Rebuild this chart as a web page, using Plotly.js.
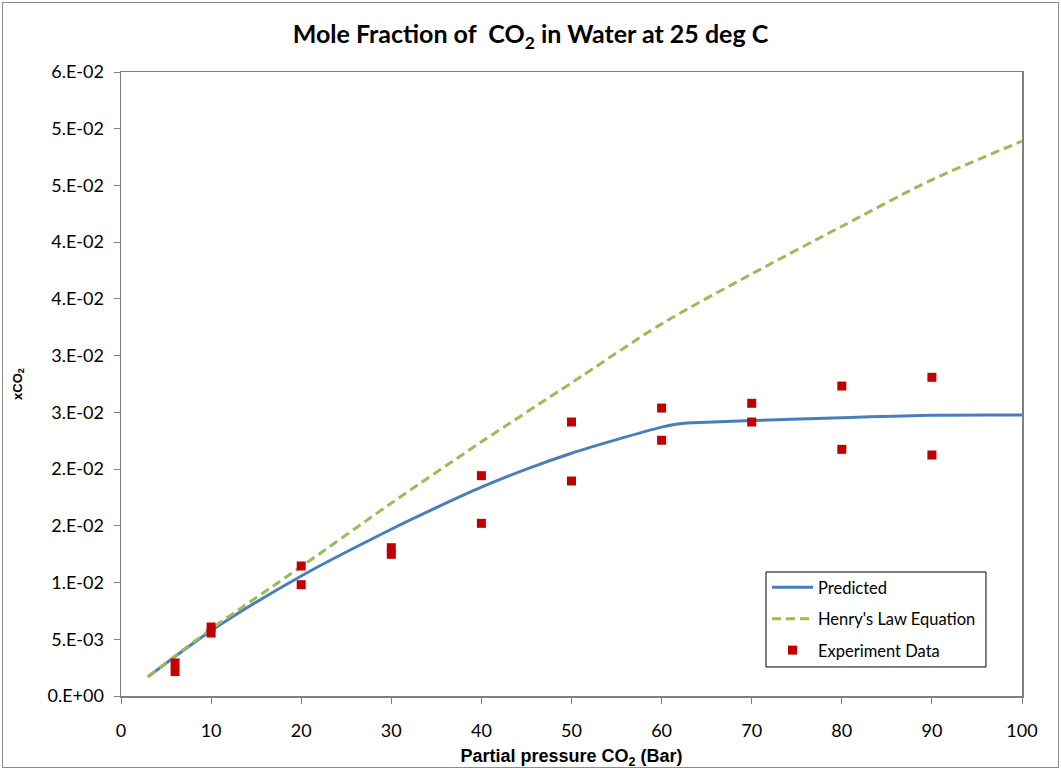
<!DOCTYPE html>
<html>
<head>
<meta charset="utf-8">
<script src="https://cdn.plot.ly/plotly-3.0.1.min.js"></script>
<style>
  html, body { margin: 0; padding: 0; background: #fff; }
  #wrap { position: relative; width: 1061px; height: 769px; }
  #chart { width: 1061px; height: 769px; }
  #frame { position: absolute; left: 2px; top: 2px; width: 1055px; height: 764px; border: 1px solid #8c8c8c; pointer-events: none; }
</style>
</head>
<body>
<div id="wrap"><div id="chart"></div><div id="frame"></div></div>
<script>
// Predicted curve
const predX = [3, 10, 20, 30, 35, 40, 45, 50, 55, 60, 62, 65, 70, 80, 90, 100];
const predY = [0.0017, 0.00576, 0.01058, 0.0147, 0.0166, 0.0184, 0.0200, 0.0214, 0.0226, 0.0237, 0.0240, 0.02413, 0.02428, 0.02453, 0.02474, 0.02476];

// Henry's Law Equation curve
const henryX = [3, 10, 20, 30, 40, 50, 60, 70, 80, 90, 100];
const henryY = [0.0017, 0.0059, 0.0114, 0.0170, 0.0224, 0.0276, 0.0328, 0.0372, 0.0414, 0.0455, 0.0489];

// Experiment data
const expX = [6, 6, 10, 10, 20, 20, 30, 30, 40, 40, 50, 50, 60, 60, 70, 70, 80, 80, 90, 90];
const expY = [0.00291, 0.00215, 0.00608, 0.00555, 0.01146, 0.00981, 0.01307, 0.01249, 0.01942, 0.01522,
              0.02415, 0.01895, 0.02538, 0.02254, 0.0258, 0.02415, 0.02732, 0.02174, 0.02809, 0.02124];

// Axis ticks
const yTickVals = [0, 0.005, 0.01, 0.015, 0.02, 0.025, 0.03, 0.035, 0.04, 0.045, 0.05, 0.055];
const yTickText = ['0.E+00', '5.E-03', '1.E-02', '2.E-02', '2.E-02', '3.E-02', '3.E-02', '4.E-02', '4.E-02', '5.E-02', '5.E-02', '6.E-02'];
const xTickVals = [0, 10, 20, 30, 40, 50, 60, 70, 80, 90, 100];

const tickFont = { family: 'Lato, "Open Sans", sans-serif', size: 18, color: '#000' };

const traces = [
  {
    x: predX, y: predY, name: 'Predicted', mode: 'lines', legendgroup: 'a',
    line: { color: '#4a7ebb', width: 3, shape: 'spline', smoothing: 0.8 }
  },
  {
    x: henryX, y: henryY, name: "Henry's Law Equation", mode: 'lines', legendgroup: 'b',
    line: { color: '#9bbb59', width: 3, dash: '9px,5px', shape: 'spline', smoothing: 0.8 }
  },
  {
    x: expX, y: expY, name: 'Experiment Data', mode: 'markers', legendgroup: 'c',
    marker: { symbol: 'square', size: 9, color: '#c00000' }
  }
];

const layout = {
  width: 1061, height: 769,
  margin: { l: 121, r: 39, t: 72, b: 73 },
  paper_bgcolor: '#fff', plot_bgcolor: '#fff',
  showlegend: true,
  title: {
    text: '<b>Mole Fraction of  CO<sub>2</sub> in Water at 25 deg C</b>',
    font: { family: 'Lato, "Open Sans", sans-serif', size: 25, color: '#000' },
    x: 0.5, xanchor: 'center', y: 0.955, yanchor: 'middle'
  },
  xaxis: {
    range: [0, 100], tickvals: xTickVals, ticktext: xTickVals.map(String),
    showgrid: false, zeroline: false,
    showline: true, linecolor: '#7f7f7f', linewidth: 1.5, mirror: true,
    ticks: 'outside', ticklen: 6, tickcolor: '#7f7f7f', tickwidth: 1,
    tickfont: tickFont, ticklabelstandoff: 12,
    title: { text: '<b>Partial pressure CO<sub>2</sub> (Bar)</b>', font: { family: '"Liberation Sans", Arial, sans-serif', size: 18, color: '#000' }, standoff: 10 }
  },
  yaxis: {
    range: [0, 0.055], tickvals: yTickVals, ticktext: yTickText,
    showgrid: false, zeroline: false,
    showline: true, linecolor: '#7f7f7f', linewidth: 1.5, mirror: true,
    ticks: 'outside', ticklen: 6, tickcolor: '#7f7f7f', tickwidth: 1,
    tickfont: tickFont, ticklabelstandoff: 6,
    title: { text: '<b>xCO<sub>2</sub></b>', font: { family: '"Liberation Sans", Arial, sans-serif', size: 13, color: '#000' }, standoff: 22 }
  },
  legend: {
    x: 0.717, y: 0.2019, xanchor: 'left', yanchor: 'top',
    bgcolor: 'rgba(0,0,0,0)', borderwidth: 0,
    font: { family: 'Lato, "Open Sans", sans-serif', size: 16.5, color: '#000' },
    itemwidth: 41,
    tracegroupgap: 7
  },
  shapes: [
    { type: 'rect', xref: 'paper', yref: 'paper', x0: 0.7159, x1: 0.96, y0: 0.0465, y1: 0.1987,
      line: { color: '#000', width: 1 }, fillcolor: 'rgba(0,0,0,0)', layer: 'above' }
  ]
};

Plotly.newPlot('chart', traces, layout, { displayModeBar: false, staticPlot: true });
</script>
</body>
</html>
